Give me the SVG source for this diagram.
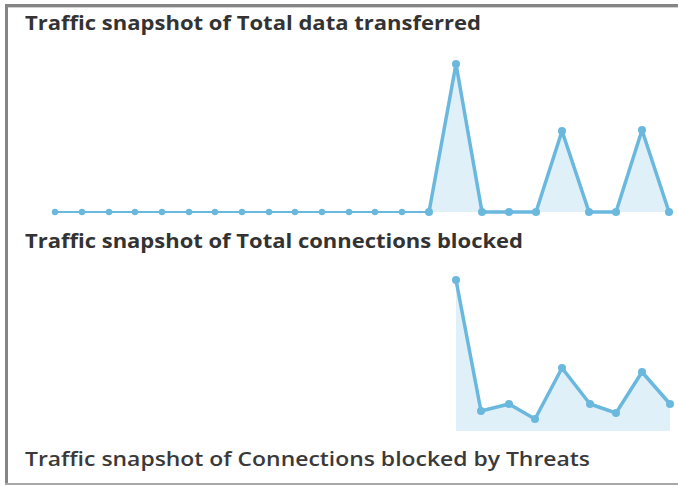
<svg xmlns="http://www.w3.org/2000/svg" width="678" height="486" viewBox="0 0 678 486">
<style>
.title{font-family:"Open Sans","DejaVu Sans","Liberation Sans",sans-serif;font-size:19px;fill:#333;}
.b{font-weight:bold;}
.r{font-weight:600;fill:#3a3a3a;}
.line{fill:none;stroke:#6bb8de;stroke-linejoin:round;stroke-linecap:round;}
.area{fill:#dff0f8;stroke:none;}
.dot{fill:#6bb8de;}
</style>
<rect x="0" y="0" width="678" height="486" fill="#fff"/>
<g id="frame">
<rect x="5" y="4" width="673" height="3" fill="#858585"/>
<rect x="5" y="7" width="673" height="1" fill="#d0d0d0"/>
<rect x="5" y="4" width="3" height="481" fill="#858585"/>
<rect x="5" y="483" width="673" height="2" fill="#a8a8a8"/>
</g>
<g id="title1"><text class="title b" x="25" y="29.5" textLength="456" lengthAdjust="spacingAndGlyphs">Traffic snapshot of Total data transferred</text></g>
<g id="title2"><text class="title b" x="25" y="247.5" textLength="498" lengthAdjust="spacingAndGlyphs">Traffic snapshot of Total connections blocked</text></g>
<g id="title3"><text class="title r" x="25" y="466" textLength="565" lengthAdjust="spacingAndGlyphs">Traffic snapshot of Connections blocked by Threats</text></g>
<g id="chart1">
<polygon class="area" points="429,212 456,64 482,212 509,212 536,212 562,131 589,212 616,212 642,130 669,212"/>
<path class="line" stroke-width="2" d="M55,212 H429"/>
<path class="line" stroke-width="3.5" d="M429,212 L456,64 L482,212 L509,212 L536,212 L562,131 L589,212 L616,212 L642,130 L669,212"/>
<g class="dot">
<circle cx="55" cy="212" r="3.2"/><circle cx="82" cy="212" r="3.2"/><circle cx="109" cy="212" r="3.2"/><circle cx="135" cy="212" r="3.2"/><circle cx="162" cy="212" r="3.2"/><circle cx="189" cy="212" r="3.2"/><circle cx="215" cy="212" r="3.2"/><circle cx="242" cy="212" r="3.2"/><circle cx="269" cy="212" r="3.2"/><circle cx="295" cy="212" r="3.2"/><circle cx="322" cy="212" r="3.2"/><circle cx="349" cy="212" r="3.2"/><circle cx="375" cy="212" r="3.2"/><circle cx="402" cy="212" r="3.2"/>
<circle cx="429" cy="212" r="4"/><circle cx="456" cy="64" r="4"/><circle cx="482" cy="212" r="4"/><circle cx="509" cy="212" r="4"/><circle cx="536" cy="212" r="4"/><circle cx="562" cy="131" r="4"/><circle cx="589" cy="212" r="4"/><circle cx="616" cy="212" r="4"/><circle cx="642" cy="130" r="4"/><circle cx="669" cy="212" r="4"/>
</g>
</g>
<g id="chart2">
<polygon class="area" points="456,431 456,280 481,411 509,404 535,419 562,368 590,404 616,413 642,372 670,404 670,431"/>
<path class="line" stroke-width="3.5" d="M456,280 L481,411 L509,404 L535,419 L562,368 L590,404 L616,413 L642,372 L670,404"/>
<g class="dot">
<circle cx="456" cy="280" r="4"/><circle cx="481" cy="411" r="4"/><circle cx="509" cy="404" r="4"/><circle cx="535" cy="419" r="4"/><circle cx="562" cy="368" r="4"/><circle cx="590" cy="404" r="4"/><circle cx="616" cy="413" r="4"/><circle cx="642" cy="372" r="4"/><circle cx="670" cy="404" r="4"/>
</g>
</g>
</svg>
